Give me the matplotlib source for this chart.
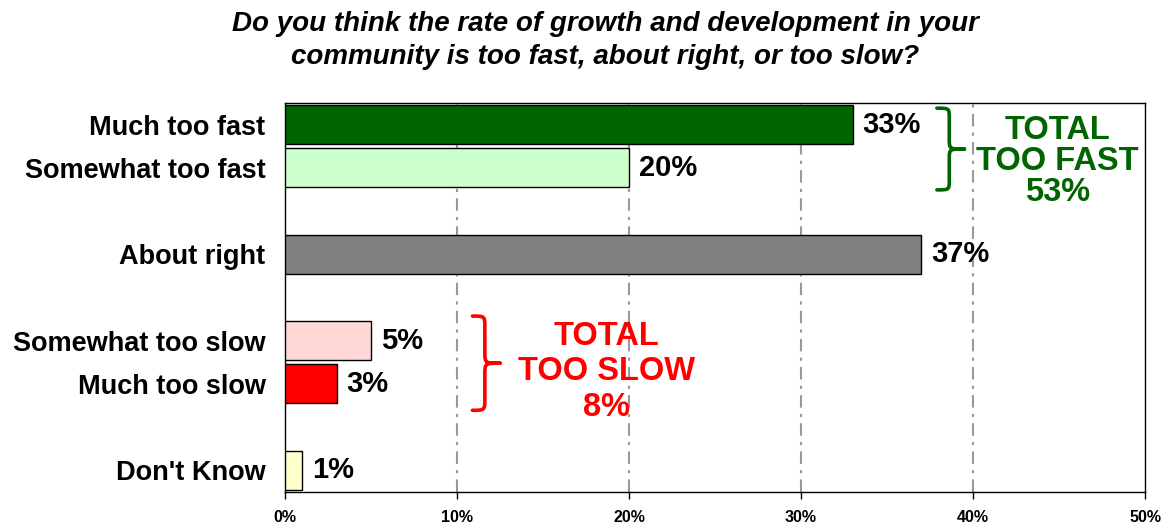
import matplotlib
matplotlib.use("Agg")
import matplotlib.pyplot as plt
from matplotlib.path import Path
from matplotlib.patches import PathPatch

plt.rcParams['font.family'] = ['Liberation Sans', 'DejaVu Sans']

# data
categories = ["Much too fast", "Somewhat too fast", "About right",
              "Somewhat too slow", "Much too slow", "Don't Know"]
values = [33, 20, 37, 5, 3, 1]
positions = [0, 1, 3, 5, 6, 8]
colors = ["#006400", "#CCFFCC", "#808080", "#FFD7D7", "#FF0000", "#FFFFCC"]
xticks = [0, 10, 20, 30, 40, 50]
xtick_labels = ["0%", "10%", "20%", "30%", "40%", "50%"]

title = ("Do you think the rate of growth and development in your\n"
         "community is too fast, about right, or too slow?")


def brace(ax, x0, width, ytop, ybot, color):
    # curly brace pointing right, in data coords (y axis inverted)
    xm = x0 + width * 0.45
    xt = x0 + width
    ymid = (ytop + ybot) / 2
    r = (ybot - ytop) * 0.12
    verts = [
        (x0, ytop),
        (xm, ytop), (xm, ytop), (xm, ytop + r),
        (xm, ymid - r),
        (xm, ymid), (xm, ymid), (xt, ymid),
        (xm, ymid), (xm, ymid), (xm, ymid + r),
        (xm, ybot - r),
        (xm, ybot), (xm, ybot), (x0, ybot),
    ]
    codes = [Path.MOVETO,
             Path.CURVE4, Path.CURVE4, Path.CURVE4,
             Path.LINETO,
             Path.CURVE4, Path.CURVE4, Path.CURVE4,
             Path.CURVE4, Path.CURVE4, Path.CURVE4,
             Path.LINETO,
             Path.CURVE4, Path.CURVE4, Path.CURVE4]
    patch = PathPatch(Path(verts, codes), facecolor='none', edgecolor=color,
                      lw=2.6, capstyle='round', joinstyle='round', zorder=4)
    ax.add_patch(patch)


fig = plt.figure(figsize=(11.66, 5.25), dpi=100)
ax = fig.add_axes([0.2444, 0.0629, 0.982 - 0.2444, 0.8038 - 0.0629])

ax.barh(positions, values, height=0.9, color=colors, edgecolor='black',
        linewidth=1, zorder=3)

for p, v in zip(positions, values):
    ax.annotate(f"{v}%", (v, p), xytext=(7, 0), textcoords='offset points',
                va='center', ha='left', fontsize=21, fontweight='bold',
                zorder=5)

ax.set_xlim(0, 50)
ax.set_ylim(8.5, -0.5)
ax.set_xticks(xticks)
ax.set_xticklabels(xtick_labels, fontsize=11.5, fontweight='bold')
ax.set_yticks(positions)
ax.set_yticklabels(categories, fontsize=19.5, fontweight='bold')
ax.tick_params(axis='y', length=0, pad=14)
ax.tick_params(axis='x', length=5, width=1, pad=8, direction='out')

for x in xticks[1:-1]:
    ax.axvline(x, color='#999999', lw=1.5, linestyle=(0, (6, 3, 1.5, 3)),
               zorder=1)

for s in ax.spines.values():
    s.set_linewidth(1)
    s.set_color('black')

# braces and totals
brace(ax, 37.9, 1.6, -0.38, 1.51, '#006400')
ax.text(44.9, 0.85, "TOTAL\nTOO FAST\n53%", ha='center', va='center',
        fontsize=23.5, fontweight='bold', color='#006400', linespacing=1.0,
        zorder=5)

brace(ax, 10.9, 1.6, 4.43, 6.61, '#FF0000')
ax.text(18.7, 5.72, "TOTAL\nTOO SLOW\n8%", ha='center', va='center',
        fontsize=23.5, fontweight='bold', color='#FF0000', linespacing=1.2,
        zorder=5)

fig.text(0.519, 0.922, title, ha='center', va='center', fontsize=20,
         fontweight='bold', fontstyle='italic', linespacing=1.35)

fig.savefig("out.png", dpi=100)
